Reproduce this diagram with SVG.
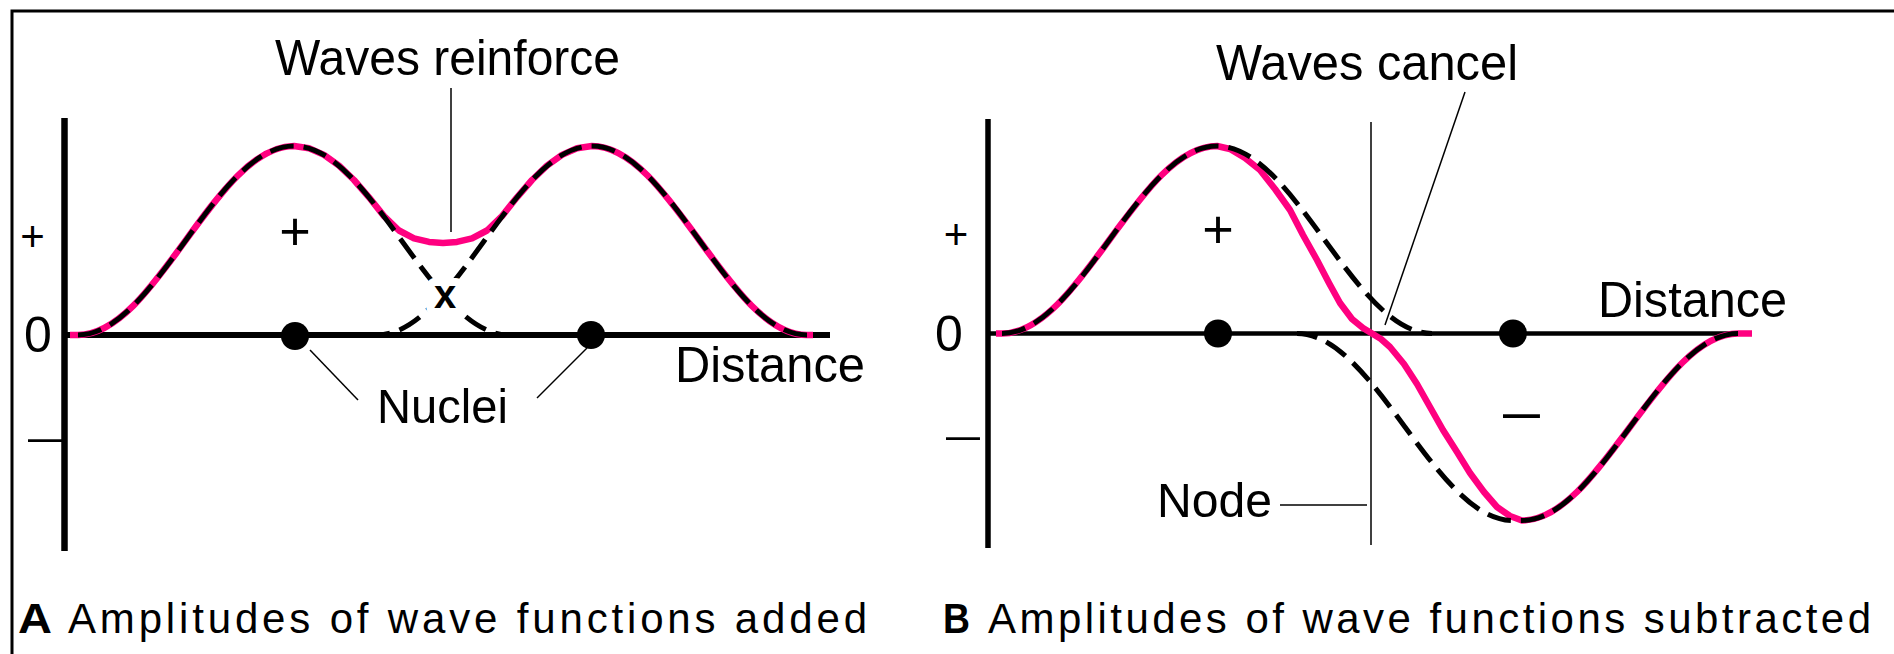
<svg xmlns="http://www.w3.org/2000/svg" width="1894" height="654" viewBox="0 0 1894 654">
<style>
.pink{fill:none;stroke:#FF0080;stroke-width:6.5;stroke-linejoin:round;stroke-linecap:butt}
.dash{fill:none;stroke:#000;stroke-width:5;stroke-dasharray:24 10}
.ax{fill:none;stroke:#000}
.thin{fill:none;stroke:#000;stroke-width:1.5}
.t{font-family:"Liberation Sans",Arial,sans-serif;fill:#000}
.big{font-size:50px}
.cap{font-size:42px}
</style>
<rect width="1894" height="654" fill="#fff"/>
<path id="frame" d="M12,654 V11 H1894" fill="none" stroke="#000" stroke-width="3"/>

<g id="panelA">
  <g id="axesA">
    <line class="ax" x1="64.5" y1="118" x2="64.5" y2="551" stroke-width="6.5"/>
    <line class="ax" x1="62" y1="335" x2="830" y2="335" stroke-width="6"/>
  </g>
  <g id="curveA">
    <path class="pink" d="M70,335 L78,335 C156.1,335 214.9,146 294,146 L309,148.3 L324,154.9 L339,165.7 L354,180 L369,197.3 L384,216.1 L399,230.5 L414,238.4 L429,241.9 L443,243 L457,241.9 L472,238.4 L487,230.5 L502,216.1 L517,197.3 L532,180 L547,165.7 L562,154.9 L577,148.3 L592,146 C670.1,146 728.9,335 807,335 L813,335"/>
    <path class="dash" d="M78,335 C156.1,335 214.9,146 294,146 C372.1,146 430.9,335 509,335"/>
    <path class="dash" d="M807,335 C728.9,335 670.1,146 592,146 C513.9,146 455.1,335 377,335"/>
    <text class="t" x="445" y="308" font-size="40" font-weight="bold" text-anchor="middle" stroke="#fff" stroke-width="16" paint-order="stroke" stroke-linejoin="round">x</text>
  </g>
  <g id="nucleiA">
    <circle cx="295" cy="336" r="14"/>
    <circle cx="591" cy="335" r="14"/>
  </g>
  <g id="labelsA">
    <text class="t" x="32.5" y="251" font-size="42" text-anchor="middle">+</text>
    <text class="t big" x="24" y="352">0</text>
    <text class="t" x="28" y="451" font-size="40" textLength="36" lengthAdjust="spacingAndGlyphs">–</text>
    <text class="t" x="295" y="250" font-size="54" text-anchor="middle">+</text>
    <text class="t big" x="675" y="382" textLength="190" lengthAdjust="spacingAndGlyphs">Distance</text>
  </g>
  <g id="reinforceLabel"><text class="t big" x="275" y="75" textLength="345" lengthAdjust="spacingAndGlyphs">Waves reinforce</text></g>
  <g id="nucleiLabel"><text class="t" x="377" y="423" font-size="49" textLength="131" lengthAdjust="spacingAndGlyphs">Nuclei</text></g>
  <g id="captionA">
    <text class="t cap" x="18" y="633" font-weight="bold" textLength="34" lengthAdjust="spacingAndGlyphs">A</text>
    <text class="t cap" x="68" y="633" textLength="799">Amplitudes of wave functions added</text>
  </g>
</g>

<g id="panelB">
  <g id="axesB">
    <line class="ax" x1="988" y1="119" x2="988" y2="548" stroke-width="5.5"/>
    <line class="ax" x1="986" y1="333.5" x2="1750" y2="333.5" stroke-width="4.5"/>
  </g>
  <g id="nodeLine"><line class="thin" x1="1371" y1="122" x2="1371" y2="545"/></g>
  <g id="curveB">
    <path class="pink" d="M996,333.5 L1002,333.5 C1080.1,333.5 1138.9,146 1217,146 L1230,149 L1245,158 L1260,170 L1275,189 L1290,210 L1303,235 L1317,260 L1329,283 L1340,303 L1352,319 L1363,328 L1372,333.5 L1381,339 L1390,347 L1404,364 L1417,384 L1430,407 L1443,430 L1457,452 L1470,473 L1484,492 L1497,507 L1510,516 L1522,520.5 C1600.1,520.5 1659.9,333.5 1738,333.5 L1752,333.5"/>
    <path class="dash" d="M1002,333.5 C1080.1,333.5 1138.9,146 1217,146 C1295.1,146 1353.9,333.5 1432,333.5"/>
    <path class="dash" d="M1738,333.5 C1659.9,333.5 1600.1,520.5 1522,520.5 L1513,520.5 C1434.9,520.5 1375.1,333.5 1297,333.5"/>
  </g>
  <g id="nucleiB">
    <circle cx="1218" cy="333.5" r="14"/>
    <circle cx="1513" cy="333.5" r="14"/>
  </g>
  <g id="labelsB">
    <text class="t" x="956" y="249" font-size="42" text-anchor="middle">+</text>
    <text class="t big" x="935" y="351">0</text>
    <text class="t" x="946" y="449" font-size="40" textLength="34" lengthAdjust="spacingAndGlyphs">–</text>
    <text class="t" x="1218" y="248" font-size="54" text-anchor="middle">+</text>
    <text class="t" x="1503" y="430" font-size="55" textLength="37" lengthAdjust="spacingAndGlyphs">–</text>
    <text class="t big" x="1598" y="317" textLength="189" lengthAdjust="spacingAndGlyphs">Distance</text>
  </g>
  <g id="cancelLabel"><text class="t big" x="1216" y="80" textLength="302" lengthAdjust="spacingAndGlyphs">Waves cancel</text></g>
  <g id="nodeLabel"><text class="t" x="1157" y="517" font-size="49" textLength="115" lengthAdjust="spacingAndGlyphs">Node</text></g>
  <g id="captionB">
    <text class="t cap" x="943" y="633" font-weight="bold" textLength="27" lengthAdjust="spacingAndGlyphs">B</text>
    <text class="t cap" x="988" y="633" textLength="883">Amplitudes of wave functions subtracted</text>
  </g>
</g>

<g id="connectors">
  <line class="thin" x1="451" y1="88" x2="451" y2="232"/>
  <line class="thin" x1="310" y1="350" x2="358" y2="400"/>
  <line class="thin" x1="587" y1="348" x2="537" y2="398"/>
  <line class="thin" x1="1465" y1="92" x2="1385" y2="325"/>
  <line class="thin" x1="1280" y1="505" x2="1367" y2="505"/>
</g>
</svg>
